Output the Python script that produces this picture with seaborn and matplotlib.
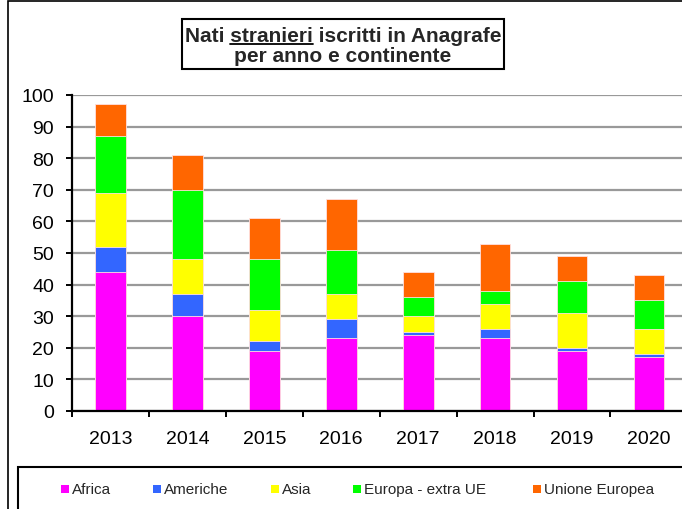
import matplotlib
matplotlib.use("Agg")
import matplotlib.pyplot as plt
import seaborn as sns
import numpy as np
import pandas as pd
from matplotlib.patches import Rectangle
from matplotlib.lines import Line2D
from matplotlib.ticker import FixedLocator

years = ["2013", "2014", "2015", "2016", "2017", "2018", "2019", "2020"]
africa = [44, 30, 19, 23, 24, 23, 19, 17]
americhe = [8, 7, 3, 6, 1, 3, 1, 1]
asia = [17, 11, 10, 8, 5, 8, 11, 8]
europa_extra = [18, 22, 16, 14, 6, 4, 10, 9]
unione = [10, 11, 13, 16, 8, 15, 8, 8]

series_names = ["Africa", "Americhe", "Asia", "Europa - extra UE", "Unione Europea"]
series_vals = [africa, americhe, asia, europa_extra, unione]
colors = ["#FF00FF", "#3366FF", "#FFFF00", "#00FF00", "#FF6600"]

sns.set_theme(style="white")
plt.rcParams["font.family"] = ["Liberation Sans", "DejaVu Sans"]

W, H = 682, 510
fig = plt.figure(figsize=(W / 100, H / 100), dpi=100)
ax = fig.add_axes([72 / W, 1 - 412 / H, 1 - 72 / W, (412 - 96) / H])

cum = np.cumsum(np.array(series_vals), axis=0)
df = pd.DataFrame({"year": years})
for i in range(len(series_names) - 1, -1, -1):
    df["v"] = cum[i]
    sns.barplot(data=df, x="year", y="v", color=colors[i], width=0.4,
                saturation=1, edgecolor="#FFE0E0", linewidth=0.6, ax=ax, zorder=3)

ax.set_ylim(0, 100)
ax.set_xlim(-0.5, 7.43)
ax.set_yticks(np.arange(0, 101, 10))
ax.yaxis.grid(True, color="#999999", linewidth=1.6, zorder=0)
ax.set_axisbelow(True)
ax.set_xlabel("")
ax.set_ylabel("")
for s in ["top", "right"]:
    ax.spines[s].set_visible(False)
for s in ["left", "bottom"]:
    ax.spines[s].set_color("black")
    ax.spines[s].set_linewidth(1.6)
    ax.spines[s].set_zorder(5)

ax.tick_params(axis="x", which="major", length=0, pad=14, labelsize=14, colors="black")
ax.xaxis.set_minor_locator(FixedLocator(np.arange(-0.5, 8, 1.0)))
ax.tick_params(axis="x", which="minor", length=4, width=1.4, color="black", bottom=True, direction="out")
ax.tick_params(axis="y", length=4, width=1.4, color="black", left=True, direction="out", pad=9,
               labelsize=14, labelcolor="black")

# Outer frame of the chart
fig.patches.append(Rectangle((8 / W, -0.1), 1.2, 1 - 2 / H + 0.1, transform=fig.transFigure,
                             fill=False, edgecolor="black", linewidth=1.2, zorder=0))

# Title box
fig.patches.append(Rectangle((182 / W, 1 - 70 / H), (504 - 182) / W, (70 - 20) / H,
                             transform=fig.transFigure, facecolor="white", edgecolor="black",
                             linewidth=1.5, zorder=1))
cx = 343 / W
tfs = 15
line1 = "Nati stranieri iscritti in Anagrafe"
t1 = fig.text(cx, 1 - 36 / H, line1, ha="center", va="center", fontsize=tfs,
              fontweight="bold", zorder=3)
fig.text(cx, 1 - 57 / H, "per anno e continente", ha="center", va="center", fontsize=tfs,
         fontweight="bold", zorder=3)
fig.canvas.draw()
r = fig.canvas.get_renderer()
bb = t1.get_window_extent(r)
tmp = fig.text(0, 0, "Nati stranieri", fontsize=tfs, fontweight="bold")
w_a = tmp.get_window_extent(r).width
tmp.set_text("stranieri")
w_b = tmp.get_window_extent(r).width
tmp.remove()
x_end = bb.x0 + w_a
x_start = x_end - w_b
uy = bb.y0 + 1
fig.lines.append(Line2D([x_start, x_end], [uy, uy], transform=None, color="black",
                        linewidth=1.3, zorder=4))

# Legend box
fig.patches.append(Rectangle((18 / W, -0.1), 1.2, 0.1 + 1 - 468 / H, transform=fig.transFigure,
                             facecolor="white", edgecolor="black", linewidth=1.5, zorder=1))
marker_x = [61, 153, 271, 353, 533]
ly = 490
for mx, name, c in zip(marker_x, series_names, colors):
    fig.patches.append(Rectangle((mx / W, 1 - (ly + 4) / H), 8 / W, 8 / H,
                                 transform=fig.transFigure, facecolor=c, edgecolor="none",
                                 zorder=3))
    fig.text((mx + 11) / W, 1 - ly / H, name, ha="left", va="center", fontsize=11,
             zorder=3)

fig.savefig("out.png", dpi=100)
